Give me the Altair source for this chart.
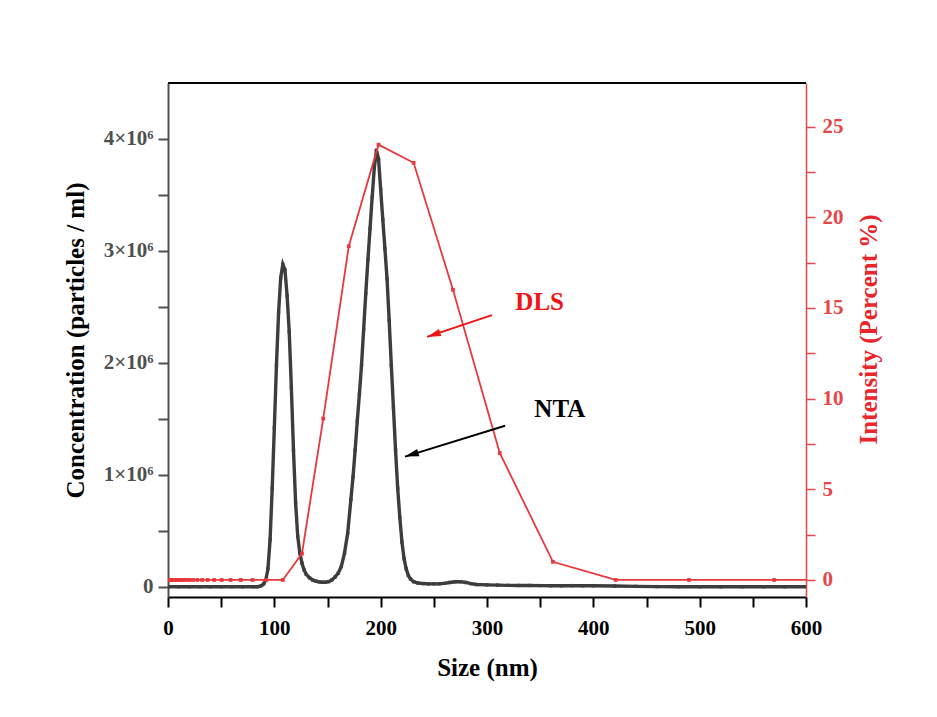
import math
import altair as alt
import pandas as pd

# ---------------- data ----------------
# NTA: size (nm) and concentration (x10^6 particles / ml)
nta_size = [0, 10, 20, 30, 40, 50, 60, 70, 80, 84, 86, 88, 90, 92, 94, 96, 98,
            100, 102, 104, 106, 108, 110, 112, 114, 116, 118, 120, 122, 124,
            126, 128, 130, 133, 136, 139, 142, 145, 148, 151, 154, 157, 160,
            163, 166, 169, 172, 174, 176, 178, 180, 182, 184, 186, 188, 190,
            192, 194, 196, 198, 200, 202, 204, 206, 208, 210, 212, 214, 216,
            218, 220, 222, 224, 226, 228, 231, 235, 240, 245, 250, 255, 260,
            265, 270, 275, 280, 285, 290, 300, 310, 320, 330, 340, 350, 360,
            370, 380, 390, 400, 420, 440, 460, 480, 500, 520, 540, 560, 580, 600]
nta_conc_e6 = [0, 0, 0, 0, 0, 0, 0, 0, 0, 0.0, 0.003, 0.01, 0.025, 0.06, 0.16,
               0.42, 0.88, 1.42, 1.98, 2.45, 2.76, 2.88, 2.83, 2.6, 2.28, 1.78,
               1.22, 0.75, 0.45, 0.3, 0.21, 0.15, 0.11, 0.08, 0.06, 0.05, 0.043,
               0.04, 0.04, 0.045, 0.06, 0.085, 0.12, 0.18, 0.3, 0.48, 0.78, 0.98,
               1.22, 1.48, 1.72, 1.98, 2.3, 2.62, 2.92, 3.2, 3.48, 3.74, 3.9,
               3.82, 3.55, 3.28, 3.02, 2.75, 2.38, 1.98, 1.6, 1.22, 0.88, 0.62,
               0.4, 0.25, 0.16, 0.1, 0.07, 0.045, 0.033, 0.028, 0.025, 0.025,
               0.026, 0.03, 0.038, 0.044, 0.045, 0.038, 0.027, 0.02, 0.016,
               0.014, 0.012, 0.011, 0.011, 0.01, 0.009, 0.008, 0.01, 0.009,
               0.008, 0.006, 0.003, 0.001, 0, 0, 0, 0, 0, 0, 0]

# DLS: size (nm) and intensity (percent)
dls_size = [0.4, 0.46, 0.54, 0.63, 0.73, 0.85, 0.99, 1.15, 1.34, 1.56, 1.81,
            2.1, 2.45, 2.85, 3.3, 3.9, 4.5, 5.2, 6.1, 7.1, 8.2, 9.6, 11.1,
            12.9, 15.1, 17.5, 20.4, 23.7, 27.6, 32.1, 37.3, 43.4, 50.5, 58.8,
            68.4, 79.5, 92.5, 108, 126, 146, 170, 198, 231, 268, 312, 362,
            421, 490, 570, 663]
dls_intensity = [0] * 37 + [0, 1.45, 8.9, 18.4, 24.0, 23.0, 16.0, 7.0, 1.0,
                            0, 0, 0, 0]

# tick values
x_ticks = [0, 50, 100, 150, 200, 250, 300, 350, 400, 450, 500, 550, 600]
left_ticks = [0, 500000, 1000000, 1500000, 2000000, 2500000, 3000000,
              3500000, 4000000]
right_ticks = [0, 2.5, 5, 7.5, 10, 12.5, 15, 17.5, 20, 22.5, 25]

# annotations (in size / intensity units)
note_text = ["DLS", "NTA"]
note_x = [349.5, 368.5]
note_y = [15.3, 9.4]
arrow_tail_x = [304.7, 317.0]
arrow_tail_y = [14.6, 8.5]
arrow_head_x = [243.6, 222.9]
arrow_head_y = [13.4, 6.8]
note_color = ["#f01414", "#000000"]

X_DOMAIN = [0, 600]
LEFT_DOMAIN = [-92000, 4500000]
RIGHT_DOMAIN = [-0.94, 27.4]
W, H = 638, 514

FONT = "Liberation Serif"
NTA_COLOR = "#3d3d3d"
DLS_COLOR = "#e8383d"
RED_AXIS = "#e64646"
HEAD_SIZE = 320
HEAD_PATH = "M0,-1L0.42,0.55L-0.42,0.55Z"

# ---------------- tables ----------------
nta_df = pd.DataFrame({"size": nta_size,
                       "conc": [v * 1e6 for v in nta_conc_e6]})
dls_df = pd.DataFrame({"size": dls_size, "intensity": dls_intensity})

px_x = W / (X_DOMAIN[1] - X_DOMAIN[0])
px_y = H / (RIGHT_DOMAIN[1] - RIGHT_DOMAIN[0])
back = math.sqrt(HEAD_SIZE) / 2
angles, cx, cy = [], [], []
for tx, ty, hx, hy in zip(arrow_tail_x, arrow_tail_y, arrow_head_x, arrow_head_y):
    dx = (hx - tx) * px_x
    dy = -(hy - ty) * px_y
    n = math.hypot(dx, dy)
    ux, uy = dx / n, dy / n
    angles.append(math.degrees(math.atan2(ux, -uy)) % 360)
    cx.append(hx - ux * back / px_x)
    cy.append(hy + uy * back / px_y)

ann_df = pd.DataFrame({"text": note_text, "nx": note_x, "ny": note_y,
                       "tx": arrow_tail_x, "ty": arrow_tail_y,
                       "hx": arrow_head_x, "hy": arrow_head_y,
                       "cx": cx, "cy": cy, "angle": angles,
                       "color": note_color})

# ---------------- encodings ----------------
x_axis = alt.Axis(values=x_ticks,
                  labelExpr="datum.value % 100 == 0 ? datum.label : ''",
                  title="Size (nm)", titleX=W / 2, titleY=70,
                  titleAlign="center", titleBaseline="middle",
                  titleFont=FONT, titleFontSize=25, titleFontWeight="bold",
                  titleColor="#000000",
                  labelFont=FONT, labelFontSize=21, labelFontWeight="bold",
                  labelColor="#000000", labelPadding=10,
                  domainColor="#000000", domainWidth=2,
                  tickColor="#000000", tickWidth=2, tickSize=10,
                  grid=False, labelFlush=False, labelOverlap=False)
x_scale = alt.Scale(domain=X_DOMAIN, nice=False, zero=False)


def X(field):
    return alt.X(f"{field}:Q", scale=x_scale, axis=x_axis)


left_axis = alt.Axis(values=left_ticks,
                     labelExpr="datum.value == 0 ? '0' : (datum.value % 1000000 == 0 ? format(datum.value / 1000000, 'd') + '×10⁶' : '')",
                     title="Concentration (particles / ml)",
                     titleX=-93, titleY=H / 2, titleAngle=270,
                     titleAlign="center", titleBaseline="middle",
                     titleFont=FONT, titleFontSize=25, titleFontWeight="bold",
                     titleColor="#000000",
                     labelFont=FONT, labelFontSize=21, labelFontWeight="bold",
                     labelColor="#505050", labelPadding=5,
                     domainColor="#505050", domainWidth=2,
                     tickColor="#505050", tickWidth=2, tickSize=10,
                     grid=False, labelOverlap=False, labelFlush=False)

right_axis = alt.Axis(values=right_ticks,
                      labelExpr="datum.value % 5 == 0 ? datum.label : ''",
                      title="Intensity (Percent %)", orient="right",
                      titleX=62, titleY=246, titleAngle=270,
                      titleAlign="center", titleBaseline="middle",
                      titleFont=FONT, titleFontSize=25, titleFontWeight="bold",
                      titleColor="#e8262b",
                      labelFont=FONT, labelFontSize=21, labelFontWeight="bold",
                      labelColor=RED_AXIS, labelPadding=7,
                      domainColor=RED_AXIS, domainWidth=1.5,
                      tickColor=RED_AXIS, tickWidth=1.5, tickSize=9,
                      grid=False, labelOverlap=False, labelFlush=False)

left_scale = alt.Scale(domain=LEFT_DOMAIN, nice=False, zero=False)
right_scale = alt.Scale(domain=RIGHT_DOMAIN, nice=False, zero=False)


def YR(field):
    return alt.Y(f"{field}:Q", scale=right_scale, axis=right_axis)


# ---------------- left group (NTA) ----------------
nta_line = alt.Chart(nta_df).mark_line(
    color=NTA_COLOR, strokeWidth=3.4, clip=True,
    point=alt.OverlayMarkDef(shape="square", size=11, filled=True,
                             color=NTA_COLOR, opacity=1)
).encode(x=X("size"), y=alt.Y("conc:Q", scale=left_scale, axis=left_axis))

top_border = alt.Chart(nta_df).mark_rule(color="#000000", strokeWidth=2).encode(
    x=alt.value(0), x2=alt.value(W), y=alt.value(0))

left_group = alt.layer(nta_line, top_border)

# ---------------- right group (DLS + notes) ----------------
dls_line = alt.Chart(dls_df).mark_line(
    color=DLS_COLOR, strokeWidth=1.8, clip=True,
    point=alt.OverlayMarkDef(shape="square", size=14, filled=True,
                             color=DLS_COLOR, opacity=1, clip=True)
).encode(x=X("size"), y=YR("intensity"))

arrows = alt.Chart(ann_df).mark_rule(strokeWidth=2).encode(
    x=X("tx"), y=YR("ty"), x2="hx:Q", y2="hy:Q",
    color=alt.Color("color:N", scale=None))

heads = alt.Chart(ann_df).mark_point(shape=HEAD_PATH, size=HEAD_SIZE,
                                     filled=True, opacity=1,
                                     strokeWidth=0).encode(
    x=X("cx"), y=YR("cy"), angle=alt.Angle("angle:Q", scale=None),
    fill=alt.Fill("color:N", scale=None))

labels = alt.Chart(ann_df).mark_text(font=FONT, fontSize=25,
                                     fontWeight="bold", align="center",
                                     baseline="middle").encode(
    x=X("nx"), y=YR("ny"), text="text:N",
    color=alt.Color("color:N", scale=None))

right_group = alt.layer(dls_line, arrows, heads, labels)

chart = alt.layer(left_group, right_group).resolve_scale(
    y="independent"
).properties(
    width=W, height=H,
    autosize=alt.AutoSizeParams(type="none"),
    padding={"left": 160, "top": 75, "right": 120, "bottom": 110},
    background="#ffffff"
).configure_view(stroke=None)

chart.save("out.html", embed_options={"renderer": "svg", "actions": False})
